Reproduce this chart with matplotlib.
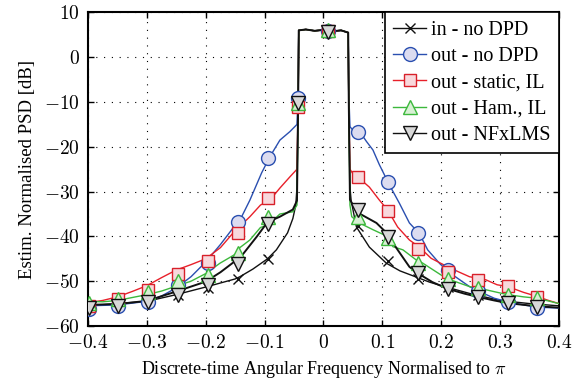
import matplotlib
matplotlib.use('Agg')
import matplotlib.pyplot as plt
from matplotlib.lines import Line2D

plt.rcParams['font.family'] = ['Liberation Serif', 'DejaVu Serif']
plt.rcParams['mathtext.fontset'] = 'cm'

# passband (shared by all curves)
pass_x = [-0.042, -0.03, -0.015, 0.0, 0.015, 0.03, 0.042]
pass_y = [6.0, 6.2, 5.9, 6.1, 5.8, 6.0, 5.5]

# curves, left tail / right tail
in_lx = [-0.4, -0.35, -0.3, -0.25, -0.2, -0.15, -0.142, -0.12, -0.095, -0.08, -0.061, -0.052, -0.047, -0.045, -0.043]
in_ly = [-55.5, -55.0, -54.5, -53.0, -51.3, -49.5, -49.0, -47.3, -45.0, -43.0, -39.2, -36.0, -33.0, -29.0, -10.0]
in_rx = [0.043, 0.045, 0.047, 0.056, 0.078, 0.107, 0.13, 0.152, 0.18, 0.2, 0.25, 0.3, 0.35, 0.4]
in_ry = [-10.0, -29.0, -32.0, -37.9, -42.4, -46.0, -47.7, -48.8, -50.2, -51.0, -52.8, -54.3, -55.0, -55.5]

nodpd_lx = [-0.4, -0.35, -0.3, -0.275, -0.25, -0.225, -0.2, -0.175, -0.15, -0.139, -0.125, -0.105, -0.091, -0.074, -0.057, -0.045, -0.043]
nodpd_ly = [-55.5, -55.3, -54.5, -53.3, -51.5, -49.0, -45.7, -41.8, -37.5, -35.6, -31.9, -25.8, -22.2, -18.5, -16.6, -15.0, -8.0]
nodpd_rx = [0.043, 0.045, 0.05, 0.061, 0.073, 0.084, 0.095, 0.112, 0.129, 0.146, 0.163, 0.177, 0.197, 0.211, 0.248, 0.27, 0.29, 0.313, 0.34, 0.363, 0.4]
nodpd_ry = [-8.0, -15.5, -16.3, -16.5, -18.8, -20.7, -24.0, -28.5, -32.6, -37.0, -39.4, -43.0, -46.0, -47.8, -51.2, -52.6, -53.8, -54.6, -55.3, -55.8, -56.0]

static_lx = [-0.4, -0.375, -0.35, -0.325, -0.3, -0.275, -0.25, -0.225, -0.2, -0.175, -0.154, -0.14, -0.125, -0.107, -0.091, -0.074, -0.057, -0.045, -0.043]
static_ly = [-54.8, -54.3, -53.5, -52.3, -51.0, -49.2, -47.5, -46.3, -45.0, -42.5, -39.3, -37.5, -35.6, -33.0, -31.9, -29.2, -26.7, -25.0, -10.0]
static_rx = [0.043, 0.045, 0.05, 0.058, 0.078, 0.095, 0.109, 0.126, 0.146, 0.163, 0.183, 0.214, 0.248, 0.276, 0.295, 0.313, 0.34, 0.363, 0.38, 0.4]
static_ry = [-10.0, -25.0, -26.0, -26.7, -29.0, -31.9, -34.1, -37.9, -40.8, -42.4, -44.9, -47.0, -49.0, -49.7, -50.8, -51.2, -52.5, -53.4, -54.2, -55.0]

ham_lx = [-0.4, -0.375, -0.35, -0.3, -0.275, -0.25, -0.225, -0.2, -0.176, -0.15, -0.142, -0.125, -0.107, -0.095, -0.074, -0.052, -0.045, -0.043]
ham_ly = [-54.5, -54.6, -54.3, -53.0, -52.2, -51.1, -50.0, -48.3, -46.0, -44.0, -42.5, -40.8, -38.0, -37.5, -35.0, -34.5, -33.0, -10.0]
ham_rx = [0.043, 0.045, 0.048, 0.061, 0.084, 0.107, 0.118, 0.135, 0.158, 0.169, 0.209, 0.248, 0.262, 0.299, 0.313, 0.34, 0.363, 0.4]
ham_ry = [-10.0, -33.0, -35.6, -37.0, -38.5, -39.9, -42.3, -43.0, -45.3, -46.0, -49.4, -51.2, -51.5, -52.6, -53.0, -53.5, -53.8, -55.0]

nfx_lx = [-0.4, -0.35, -0.3, -0.25, -0.2, -0.175, -0.15, -0.137, -0.125, -0.113, -0.095, -0.074, -0.052, -0.045, -0.043]
nfx_ly = [-55.3, -55.1, -54.4, -52.3, -50.1, -48.0, -45.5, -44.0, -42.0, -40.0, -36.8, -35.6, -34.0, -32.0, -10.0]
nfx_rx = [0.043, 0.045, 0.057, 0.09, 0.107, 0.126, 0.146, 0.16, 0.185, 0.211, 0.24, 0.262, 0.29, 0.313, 0.363, 0.4]
nfx_ry = [-10.0, -31.8, -34.6, -37.0, -39.2, -43.0, -46.8, -48.2, -50.2, -51.7, -52.8, -53.5, -54.3, -54.9, -55.6, -55.9]

# marker positions (shared) and marker values per series
mark_x = [-0.399, -0.349, -0.298, -0.247, -0.196, -0.146, -0.095, -0.044, 0.007, 0.058, 0.109, 0.160, 0.211, 0.262, 0.313, 0.363]
in_m = [-55.5, -55.0, -54.5, -53.0, -51.5, -49.5, -45.0, -10.0, 6.0, -37.6, -45.5, -49.6, -51.3, -53.0, -54.3, -55.0]
nodpd_m = [-56.3, -55.5, -54.6, -50.8, -46.0, -36.8, -22.5, -9.1, 5.8, -16.7, -27.8, -39.2, -47.5, -52.3, -54.6, -56.0]
static_m = [-55.6, -54.0, -52.0, -48.4, -45.4, -39.3, -31.4, -11.1, 5.8, -26.7, -34.3, -42.8, -48.0, -49.7, -51.0, -53.6]
ham_m = [-54.8, -54.0, -52.4, -50.0, -48.6, -43.7, -35.6, -10.2, 6.0, -35.6, -40.4, -46.0, -49.5, -51.5, -53.0, -53.7]
nfx_m = [-56.0, -55.5, -54.6, -53.1, -50.9, -46.2, -37.2, -10.2, 5.7, -34.1, -40.1, -48.2, -51.7, -53.5, -54.9, -55.8]

labels = ['in - no DPD', 'out - no DPD', 'out - static, IL', 'out - Ham., IL', 'out - NFxLMS']

series = [
    (in_lx, in_ly, in_rx, in_ry, in_m, '#111111', 'x', 'none', '#111111', 1.0),
    (nodpd_lx, nodpd_ly, nodpd_rx, nodpd_ry, nodpd_m, '#2a4fb0', 'o', '#dcdcf0', '#2a4fb0', 1.0),
    (static_lx, static_ly, static_rx, static_ry, static_m, '#e8202a', 's', '#f8d8dc', '#d8202a', 1.0),
    (ham_lx, ham_ly, ham_rx, ham_ry, ham_m, '#3cb83c', '^', '#d8f0d4', '#3cb83c', 1.0),
    (nfx_lx, nfx_ly, nfx_rx, nfx_ry, nfx_m, '#111111', 'v', '#d8d8d8', '#111111', 1.4),
]
msizes = {'x': 7, 'o': 10, 's': 9, '^': 10, 'v': 10.5}

fig = plt.figure(figsize=(5.81, 3.89), dpi=100)
ax = fig.add_axes([0.1515, 0.162, 0.8105, 0.806])

handles = []
for i, (lx, ly, rx, ry, m, col, mk, mfc, mec, lw) in enumerate(series):
    xs = lx + pass_x + rx
    ys = ly + pass_y + ry
    ax.plot(xs, ys, color=col, lw=lw, zorder=2 + i)
    ax.plot(mark_x, m, ls='none', marker=mk, ms=msizes[mk], mfc=mfc, mec=mec, mew=1.0, zorder=10 + i)
    handles.append(Line2D([], [], color=col, lw=1.0, marker=mk, ms=msizes[mk], mfc=mfc, mec=mec, mew=1.0))

ax.set_xlim(-0.4, 0.4)
ax.set_ylim(-60, 10)
xt = [-0.4, -0.3, -0.2, -0.1, 0, 0.1, 0.2, 0.3, 0.4]
yt = [-60, -50, -40, -30, -20, -10, 0, 10]
ax.set_xticks(xt)
ax.set_yticks(yt)
ax.set_xticklabels(['$%g$' % v if v >= 0 else '$-%g$' % abs(v) for v in xt], fontsize=14)
ax.set_yticklabels(['$%g$' % v if v >= 0 else '$-%g$' % abs(v) for v in yt], fontsize=14)
ax.tick_params(direction='in', top=True, right=True, length=4, width=1.0)
ax.tick_params(axis='x', pad=6)
ax.tick_params(axis='y', pad=6)
ax.grid(True, color='black', linestyle=(0, (1, 6)), linewidth=0.8)
for s in ax.spines.values():
    s.set_linewidth(1.5)

ax.set_xlabel(r'Discrete-time Angular Frequency Normalised to $\pi$', fontsize=13, labelpad=5)
ax.set_ylabel('Estim. Normalised PSD [dB]', fontsize=13.5, labelpad=6)

leg = ax.legend(handles, labels, loc='upper right', fontsize=14.5, handlelength=1.65,
                handletextpad=0.25, borderpad=0.4, labelspacing=0.36, borderaxespad=0.0,
                fancybox=False, framealpha=1.0, edgecolor='black')
leg.get_frame().set_linewidth(1.2)
leg.set_zorder(20)

fig.savefig('out.png', dpi=100)
